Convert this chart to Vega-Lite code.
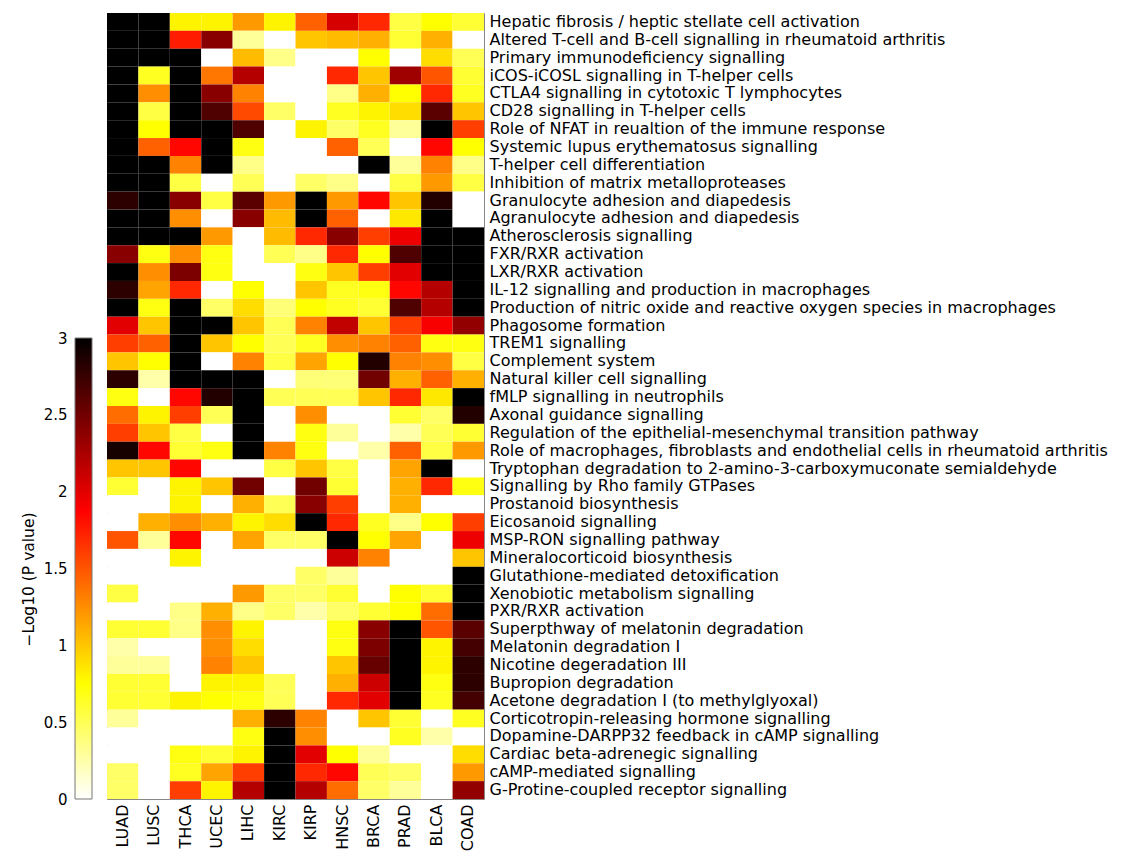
{
 "$schema": "https://vega.github.io/schema/vega-lite/v6.json",
 "padding": {"left": 21, "top": 12, "right": 5, "bottom": 5},
 "config": {"font": "DejaVu Sans", "view": {"stroke": null}, "axis": {"labelColor": "#000", "titleColor": "#000", "labelFont": "DejaVu Sans", "titleFont": "DejaVu Sans"}},
 "spacing": 13,
 "datasets": {
  "paths": [
   {"i":1,"name":"Hepatic fibrosis / heptic stellate cell activation"},
   {"i":2,"name":"Altered T-cell and B-cell signalling in rheumatoid arthritis"},
   {"i":3,"name":"Primary immunodeficiency signalling"},
   {"i":4,"name":"iCOS-iCOSL signalling in T-helper cells"},
   {"i":5,"name":"CTLA4 signalling in cytotoxic T lymphocytes"},
   {"i":6,"name":"CD28 signalling in T-helper cells"},
   {"i":7,"name":"Role of NFAT in reualtion of the immune response"},
   {"i":8,"name":"Systemic lupus erythematosus signalling"},
   {"i":9,"name":"T-helper cell differentiation"},
   {"i":10,"name":"Inhibition of matrix metalloproteases"},
   {"i":11,"name":"Granulocyte adhesion and diapedesis"},
   {"i":12,"name":"Agranulocyte adhesion and diapedesis"},
   {"i":13,"name":"Atherosclerosis signalling"},
   {"i":14,"name":"FXR/RXR activation"},
   {"i":15,"name":"LXR/RXR activation"},
   {"i":16,"name":"IL-12 signalling and production in macrophages"},
   {"i":17,"name":"Production of nitric oxide and reactive oxygen species in macrophages"},
   {"i":18,"name":"Phagosome formation"},
   {"i":19,"name":"TREM1 signalling"},
   {"i":20,"name":"Complement system"},
   {"i":21,"name":"Natural killer cell signalling"},
   {"i":22,"name":"fMLP signalling in neutrophils"},
   {"i":23,"name":"Axonal guidance signalling"},
   {"i":24,"name":"Regulation of the epithelial-mesenchymal transition pathway"},
   {"i":25,"name":"Role of macrophages, fibroblasts and endothelial cells in rheumatoid arthritis"},
   {"i":26,"name":"Tryptophan degradation to 2-amino-3-carboxymuconate semialdehyde"},
   {"i":27,"name":"Signalling by Rho family GTPases"},
   {"i":28,"name":"Prostanoid biosynthesis"},
   {"i":29,"name":"Eicosanoid signalling"},
   {"i":30,"name":"MSP-RON signalling pathway"},
   {"i":31,"name":"Mineralocorticoid biosynthesis"},
   {"i":32,"name":"Glutathione-mediated detoxification"},
   {"i":33,"name":"Xenobiotic metabolism signalling"},
   {"i":34,"name":"PXR/RXR activation"},
   {"i":35,"name":"Superpthway of melatonin degradation"},
   {"i":36,"name":"Melatonin degradation I"},
   {"i":37,"name":"Nicotine degeradation III"},
   {"i":38,"name":"Bupropion degradation"},
   {"i":39,"name":"Acetone degradation I (to methylglyoxal)"},
   {"i":40,"name":"Corticotropin-releasing hormone signalling"},
   {"i":41,"name":"Dopamine-DARPP32 feedback in cAMP signalling"},
   {"i":42,"name":"Cardiac beta-adrenegic signalling"},
   {"i":43,"name":"cAMP-mediated signalling"},
   {"i":44,"name":"G-Protine-coupled receptor signalling"}
  ],
  "cells": [
{"i":1,"c":"LUAD","v":3},{"i":1,"c":"LUSC","v":3},{"i":1,"c":"THCA","v":0.8},{"i":1,"c":"UCEC","v":0.8},{"i":1,"c":"LIHC","v":1.2},{"i":1,"c":"KIRC","v":0.8},{"i":1,"c":"KIRP","v":1.45},{"i":1,"c":"HNSC","v":2.05},{"i":1,"c":"BRCA","v":1.7},{"i":1,"c":"PRAD","v":0.55},{"i":1,"c":"BLCA","v":0.75},{"i":1,"c":"COAD","v":0.6},
{"i":2,"c":"LUAD","v":3},{"i":2,"c":"LUSC","v":3},{"i":2,"c":"THCA","v":1.75},{"i":2,"c":"UCEC","v":2.4},{"i":2,"c":"LIHC","v":0.3},{"i":2,"c":"KIRC","v":0},{"i":2,"c":"KIRP","v":1.0},{"i":2,"c":"HNSC","v":1.05},{"i":2,"c":"BRCA","v":1.1},{"i":2,"c":"PRAD","v":0.6},{"i":2,"c":"BLCA","v":1.1},{"i":2,"c":"COAD","v":0},
{"i":3,"c":"LUAD","v":3},{"i":3,"c":"LUSC","v":3},{"i":3,"c":"THCA","v":3},{"i":3,"c":"UCEC","v":0},{"i":3,"c":"LIHC","v":1.05},{"i":3,"c":"KIRC","v":0.35},{"i":3,"c":"KIRP","v":0},{"i":3,"c":"HNSC","v":0},{"i":3,"c":"BRCA","v":0.75},{"i":3,"c":"PRAD","v":0},{"i":3,"c":"BLCA","v":0.9},{"i":3,"c":"COAD","v":0.5},
{"i":4,"c":"LUAD","v":3},{"i":4,"c":"LUSC","v":0.65},{"i":4,"c":"THCA","v":3},{"i":4,"c":"UCEC","v":1.35},{"i":4,"c":"LIHC","v":2.2},{"i":4,"c":"KIRC","v":0},{"i":4,"c":"KIRP","v":0},{"i":4,"c":"HNSC","v":1.7},{"i":4,"c":"BRCA","v":1.0},{"i":4,"c":"PRAD","v":2.3},{"i":4,"c":"BLCA","v":1.5},{"i":4,"c":"COAD","v":0.6},
{"i":5,"c":"LUAD","v":3},{"i":5,"c":"LUSC","v":1.25},{"i":5,"c":"THCA","v":3},{"i":5,"c":"UCEC","v":2.4},{"i":5,"c":"LIHC","v":1.3},{"i":5,"c":"KIRC","v":0},{"i":5,"c":"KIRP","v":0},{"i":5,"c":"HNSC","v":0.35},{"i":5,"c":"BRCA","v":1.1},{"i":5,"c":"PRAD","v":0.75},{"i":5,"c":"BLCA","v":1.7},{"i":5,"c":"COAD","v":0.65},
{"i":6,"c":"LUAD","v":3},{"i":6,"c":"LUSC","v":0.55},{"i":6,"c":"THCA","v":3},{"i":6,"c":"UCEC","v":2.65},{"i":6,"c":"LIHC","v":1.55},{"i":6,"c":"KIRC","v":0.45},{"i":6,"c":"KIRP","v":0},{"i":6,"c":"HNSC","v":0.65},{"i":6,"c":"BRCA","v":0.8},{"i":6,"c":"PRAD","v":0.9},{"i":6,"c":"BLCA","v":2.6},{"i":6,"c":"COAD","v":1.0},
{"i":7,"c":"LUAD","v":3},{"i":7,"c":"LUSC","v":0.75},{"i":7,"c":"THCA","v":3},{"i":7,"c":"UCEC","v":3},{"i":7,"c":"LIHC","v":2.65},{"i":7,"c":"KIRC","v":0},{"i":7,"c":"KIRP","v":0.8},{"i":7,"c":"HNSC","v":0.45},{"i":7,"c":"BRCA","v":0.65},{"i":7,"c":"PRAD","v":0.3},{"i":7,"c":"BLCA","v":3},{"i":7,"c":"COAD","v":1.6},
{"i":8,"c":"LUAD","v":3},{"i":8,"c":"LUSC","v":1.45},{"i":8,"c":"THCA","v":1.85},{"i":8,"c":"UCEC","v":3},{"i":8,"c":"LIHC","v":0.7},{"i":8,"c":"KIRC","v":0},{"i":8,"c":"KIRP","v":0},{"i":8,"c":"HNSC","v":1.45},{"i":8,"c":"BRCA","v":0.5},{"i":8,"c":"PRAD","v":0},{"i":8,"c":"BLCA","v":1.85},{"i":8,"c":"COAD","v":0.75},
{"i":9,"c":"LUAD","v":3},{"i":9,"c":"LUSC","v":3},{"i":9,"c":"THCA","v":1.3},{"i":9,"c":"UCEC","v":3},{"i":9,"c":"LIHC","v":0.35},{"i":9,"c":"KIRC","v":0},{"i":9,"c":"KIRP","v":0},{"i":9,"c":"HNSC","v":0},{"i":9,"c":"BRCA","v":3},{"i":9,"c":"PRAD","v":0.3},{"i":9,"c":"BLCA","v":1.3},{"i":9,"c":"COAD","v":0.35},
{"i":10,"c":"LUAD","v":3},{"i":10,"c":"LUSC","v":3},{"i":10,"c":"THCA","v":0.55},{"i":10,"c":"UCEC","v":0},{"i":10,"c":"LIHC","v":0.5},{"i":10,"c":"KIRC","v":0},{"i":10,"c":"KIRP","v":0.45},{"i":10,"c":"HNSC","v":0.35},{"i":10,"c":"BRCA","v":0},{"i":10,"c":"PRAD","v":0.55},{"i":10,"c":"BLCA","v":1.2},{"i":10,"c":"COAD","v":0.55},
{"i":11,"c":"LUAD","v":2.8},{"i":11,"c":"LUSC","v":3},{"i":11,"c":"THCA","v":2.4},{"i":11,"c":"UCEC","v":0.55},{"i":11,"c":"LIHC","v":2.6},{"i":11,"c":"KIRC","v":1.2},{"i":11,"c":"KIRP","v":3},{"i":11,"c":"HNSC","v":1.2},{"i":11,"c":"BRCA","v":1.85},{"i":11,"c":"PRAD","v":1.0},{"i":11,"c":"BLCA","v":2.85},{"i":11,"c":"COAD","v":0},
{"i":12,"c":"LUAD","v":3},{"i":12,"c":"LUSC","v":3},{"i":12,"c":"THCA","v":1.25},{"i":12,"c":"UCEC","v":0},{"i":12,"c":"LIHC","v":2.4},{"i":12,"c":"KIRC","v":1.05},{"i":12,"c":"KIRP","v":3},{"i":12,"c":"HNSC","v":1.45},{"i":12,"c":"BRCA","v":0},{"i":12,"c":"PRAD","v":0.85},{"i":12,"c":"BLCA","v":3},{"i":12,"c":"COAD","v":0},
{"i":13,"c":"LUAD","v":3},{"i":13,"c":"LUSC","v":3},{"i":13,"c":"THCA","v":3},{"i":13,"c":"UCEC","v":1.2},{"i":13,"c":"LIHC","v":0},{"i":13,"c":"KIRC","v":1.05},{"i":13,"c":"KIRP","v":1.7},{"i":13,"c":"HNSC","v":2.4},{"i":13,"c":"BRCA","v":1.6},{"i":13,"c":"PRAD","v":1.95},{"i":13,"c":"BLCA","v":3},{"i":13,"c":"COAD","v":3},
{"i":14,"c":"LUAD","v":2.4},{"i":14,"c":"LUSC","v":0.7},{"i":14,"c":"THCA","v":1.25},{"i":14,"c":"UCEC","v":0.7},{"i":14,"c":"LIHC","v":0},{"i":14,"c":"KIRC","v":0.5},{"i":14,"c":"KIRP","v":0.35},{"i":14,"c":"HNSC","v":1.7},{"i":14,"c":"BRCA","v":0.75},{"i":14,"c":"PRAD","v":2.65},{"i":14,"c":"BLCA","v":3},{"i":14,"c":"COAD","v":3},
{"i":15,"c":"LUAD","v":3},{"i":15,"c":"LUSC","v":1.25},{"i":15,"c":"THCA","v":2.45},{"i":15,"c":"UCEC","v":0.7},{"i":15,"c":"LIHC","v":0},{"i":15,"c":"KIRC","v":0},{"i":15,"c":"KIRP","v":0.7},{"i":15,"c":"HNSC","v":1.0},{"i":15,"c":"BRCA","v":1.6},{"i":15,"c":"PRAD","v":2.0},{"i":15,"c":"BLCA","v":3},{"i":15,"c":"COAD","v":3},
{"i":16,"c":"LUAD","v":2.8},{"i":16,"c":"LUSC","v":1.15},{"i":16,"c":"THCA","v":1.7},{"i":16,"c":"UCEC","v":0},{"i":16,"c":"LIHC","v":0.75},{"i":16,"c":"KIRC","v":0},{"i":16,"c":"KIRP","v":1.0},{"i":16,"c":"HNSC","v":0.65},{"i":16,"c":"BRCA","v":0.7},{"i":16,"c":"PRAD","v":1.85},{"i":16,"c":"BLCA","v":2.2},{"i":16,"c":"COAD","v":3},
{"i":17,"c":"LUAD","v":3},{"i":17,"c":"LUSC","v":0.7},{"i":17,"c":"THCA","v":3},{"i":17,"c":"UCEC","v":0.45},{"i":17,"c":"LIHC","v":0.9},{"i":17,"c":"KIRC","v":0.4},{"i":17,"c":"KIRP","v":0.75},{"i":17,"c":"HNSC","v":0.65},{"i":17,"c":"BRCA","v":0.6},{"i":17,"c":"PRAD","v":2.65},{"i":17,"c":"BLCA","v":2.2},{"i":17,"c":"COAD","v":3},
{"i":18,"c":"LUAD","v":2.0},{"i":18,"c":"LUSC","v":1.0},{"i":18,"c":"THCA","v":3},{"i":18,"c":"UCEC","v":3},{"i":18,"c":"LIHC","v":1.0},{"i":18,"c":"KIRC","v":0.5},{"i":18,"c":"KIRP","v":1.3},{"i":18,"c":"HNSC","v":2.15},{"i":18,"c":"BRCA","v":1.0},{"i":18,"c":"PRAD","v":1.6},{"i":18,"c":"BLCA","v":1.9},{"i":18,"c":"COAD","v":2.35},
{"i":19,"c":"LUAD","v":1.6},{"i":19,"c":"LUSC","v":1.45},{"i":19,"c":"THCA","v":3},{"i":19,"c":"UCEC","v":1.0},{"i":19,"c":"LIHC","v":0.75},{"i":19,"c":"KIRC","v":0.5},{"i":19,"c":"KIRP","v":0.65},{"i":19,"c":"HNSC","v":1.25},{"i":19,"c":"BRCA","v":1.3},{"i":19,"c":"PRAD","v":1.45},{"i":19,"c":"BLCA","v":0.7},{"i":19,"c":"COAD","v":0.7},
{"i":20,"c":"LUAD","v":1.0},{"i":20,"c":"LUSC","v":0.75},{"i":20,"c":"THCA","v":3},{"i":20,"c":"UCEC","v":0},{"i":20,"c":"LIHC","v":1.3},{"i":20,"c":"KIRC","v":0.55},{"i":20,"c":"KIRP","v":1.15},{"i":20,"c":"HNSC","v":0.75},{"i":20,"c":"BRCA","v":2.85},{"i":20,"c":"PRAD","v":1.3},{"i":20,"c":"BLCA","v":1.25},{"i":20,"c":"COAD","v":0.55},
{"i":21,"c":"LUAD","v":2.8},{"i":21,"c":"LUSC","v":0.25},{"i":21,"c":"THCA","v":3},{"i":21,"c":"UCEC","v":3},{"i":21,"c":"LIHC","v":3},{"i":21,"c":"KIRC","v":0},{"i":21,"c":"KIRP","v":0.4},{"i":21,"c":"HNSC","v":0.4},{"i":21,"c":"BRCA","v":2.5},{"i":21,"c":"PRAD","v":1.1},{"i":21,"c":"BLCA","v":1.45},{"i":21,"c":"COAD","v":1.1},
{"i":22,"c":"LUAD","v":0.7},{"i":22,"c":"LUSC","v":0},{"i":22,"c":"THCA","v":1.85},{"i":22,"c":"UCEC","v":2.85},{"i":22,"c":"LIHC","v":3},{"i":22,"c":"KIRC","v":0.5},{"i":22,"c":"KIRP","v":0.5},{"i":22,"c":"HNSC","v":0.5},{"i":22,"c":"BRCA","v":1.0},{"i":22,"c":"PRAD","v":1.7},{"i":22,"c":"BLCA","v":0.85},{"i":22,"c":"COAD","v":3},
{"i":23,"c":"LUAD","v":1.4},{"i":23,"c":"LUSC","v":0.8},{"i":23,"c":"THCA","v":1.6},{"i":23,"c":"UCEC","v":0.5},{"i":23,"c":"LIHC","v":3},{"i":23,"c":"KIRC","v":0},{"i":23,"c":"KIRP","v":1.25},{"i":23,"c":"HNSC","v":0},{"i":23,"c":"BRCA","v":0},{"i":23,"c":"PRAD","v":0.6},{"i":23,"c":"BLCA","v":0.45},{"i":23,"c":"COAD","v":2.85},
{"i":24,"c":"LUAD","v":1.6},{"i":24,"c":"LUSC","v":1.0},{"i":24,"c":"THCA","v":0.55},{"i":24,"c":"UCEC","v":0},{"i":24,"c":"LIHC","v":3},{"i":24,"c":"KIRC","v":0},{"i":24,"c":"KIRP","v":0.7},{"i":24,"c":"HNSC","v":0.3},{"i":24,"c":"BRCA","v":0},{"i":24,"c":"PRAD","v":0.25},{"i":24,"c":"BLCA","v":0.5},{"i":24,"c":"COAD","v":0.6},
{"i":25,"c":"LUAD","v":2.9},{"i":25,"c":"LUSC","v":1.85},{"i":25,"c":"THCA","v":0.6},{"i":25,"c":"UCEC","v":0.7},{"i":25,"c":"LIHC","v":3},{"i":25,"c":"KIRC","v":1.3},{"i":25,"c":"KIRP","v":0.7},{"i":25,"c":"HNSC","v":0},{"i":25,"c":"BRCA","v":0.25},{"i":25,"c":"PRAD","v":1.45},{"i":25,"c":"BLCA","v":0.55},{"i":25,"c":"COAD","v":1.2},
{"i":26,"c":"LUAD","v":1.0},{"i":26,"c":"LUSC","v":1.0},{"i":26,"c":"THCA","v":1.85},{"i":26,"c":"UCEC","v":0},{"i":26,"c":"LIHC","v":0},{"i":26,"c":"KIRC","v":0.55},{"i":26,"c":"KIRP","v":1.0},{"i":26,"c":"HNSC","v":0.55},{"i":26,"c":"BRCA","v":0},{"i":26,"c":"PRAD","v":1.15},{"i":26,"c":"BLCA","v":3},{"i":26,"c":"COAD","v":0},
{"i":27,"c":"LUAD","v":0.6},{"i":27,"c":"LUSC","v":0},{"i":27,"c":"THCA","v":0.8},{"i":27,"c":"UCEC","v":1.0},{"i":27,"c":"LIHC","v":2.5},{"i":27,"c":"KIRC","v":0},{"i":27,"c":"KIRP","v":2.5},{"i":27,"c":"HNSC","v":0.6},{"i":27,"c":"BRCA","v":0},{"i":27,"c":"PRAD","v":1.1},{"i":27,"c":"BLCA","v":1.7},{"i":27,"c":"COAD","v":0.7},
{"i":28,"c":"LUAD","v":0},{"i":28,"c":"LUSC","v":0},{"i":28,"c":"THCA","v":0.8},{"i":28,"c":"UCEC","v":0},{"i":28,"c":"LIHC","v":1.1},{"i":28,"c":"KIRC","v":0.5},{"i":28,"c":"KIRP","v":2.4},{"i":28,"c":"HNSC","v":1.6},{"i":28,"c":"BRCA","v":0},{"i":28,"c":"PRAD","v":1.1},{"i":28,"c":"BLCA","v":0},{"i":28,"c":"COAD","v":0},
{"i":29,"c":"LUAD","v":0},{"i":29,"c":"LUSC","v":1.1},{"i":29,"c":"THCA","v":1.25},{"i":29,"c":"UCEC","v":1.1},{"i":29,"c":"LIHC","v":0.8},{"i":29,"c":"KIRC","v":0.9},{"i":29,"c":"KIRP","v":3},{"i":29,"c":"HNSC","v":1.7},{"i":29,"c":"BRCA","v":0.65},{"i":29,"c":"PRAD","v":0.35},{"i":29,"c":"BLCA","v":0.75},{"i":29,"c":"COAD","v":1.6},
{"i":30,"c":"LUAD","v":1.5},{"i":30,"c":"LUSC","v":0.3},{"i":30,"c":"THCA","v":1.85},{"i":30,"c":"UCEC","v":0},{"i":30,"c":"LIHC","v":1.15},{"i":30,"c":"KIRC","v":0.45},{"i":30,"c":"KIRP","v":0.45},{"i":30,"c":"HNSC","v":3},{"i":30,"c":"BRCA","v":0.75},{"i":30,"c":"PRAD","v":1.15},{"i":30,"c":"BLCA","v":0},{"i":30,"c":"COAD","v":1.95},
{"i":31,"c":"LUAD","v":0},{"i":31,"c":"LUSC","v":0},{"i":31,"c":"THCA","v":0.8},{"i":31,"c":"UCEC","v":0},{"i":31,"c":"LIHC","v":0},{"i":31,"c":"KIRC","v":0},{"i":31,"c":"KIRP","v":0},{"i":31,"c":"HNSC","v":2.1},{"i":31,"c":"BRCA","v":1.3},{"i":31,"c":"PRAD","v":0},{"i":31,"c":"BLCA","v":0},{"i":31,"c":"COAD","v":1.0},
{"i":32,"c":"LUAD","v":0},{"i":32,"c":"LUSC","v":0},{"i":32,"c":"THCA","v":0},{"i":32,"c":"UCEC","v":0},{"i":32,"c":"LIHC","v":0},{"i":32,"c":"KIRC","v":0},{"i":32,"c":"KIRP","v":0.45},{"i":32,"c":"HNSC","v":0.3},{"i":32,"c":"BRCA","v":0},{"i":32,"c":"PRAD","v":0},{"i":32,"c":"BLCA","v":0},{"i":32,"c":"COAD","v":3},
{"i":33,"c":"LUAD","v":0.55},{"i":33,"c":"LUSC","v":0},{"i":33,"c":"THCA","v":0},{"i":33,"c":"UCEC","v":0},{"i":33,"c":"LIHC","v":1.2},{"i":33,"c":"KIRC","v":0.45},{"i":33,"c":"KIRP","v":0.45},{"i":33,"c":"HNSC","v":0.6},{"i":33,"c":"BRCA","v":0},{"i":33,"c":"PRAD","v":0.75},{"i":33,"c":"BLCA","v":0.6},{"i":33,"c":"COAD","v":3},
{"i":34,"c":"LUAD","v":0},{"i":34,"c":"LUSC","v":0},{"i":34,"c":"THCA","v":0.35},{"i":34,"c":"UCEC","v":1.1},{"i":34,"c":"LIHC","v":0.35},{"i":34,"c":"KIRC","v":0.45},{"i":34,"c":"KIRP","v":0.25},{"i":34,"c":"HNSC","v":0.45},{"i":34,"c":"BRCA","v":0.6},{"i":34,"c":"PRAD","v":0.75},{"i":34,"c":"BLCA","v":1.4},{"i":34,"c":"COAD","v":3},
{"i":35,"c":"LUAD","v":0.6},{"i":35,"c":"LUSC","v":0.6},{"i":35,"c":"THCA","v":0.35},{"i":35,"c":"UCEC","v":1.25},{"i":35,"c":"LIHC","v":0.8},{"i":35,"c":"KIRC","v":0},{"i":35,"c":"KIRP","v":0},{"i":35,"c":"HNSC","v":0.7},{"i":35,"c":"BRCA","v":2.4},{"i":35,"c":"PRAD","v":3},{"i":35,"c":"BLCA","v":1.5},{"i":35,"c":"COAD","v":2.6},
{"i":36,"c":"LUAD","v":0.25},{"i":36,"c":"LUSC","v":0},{"i":36,"c":"THCA","v":0},{"i":36,"c":"UCEC","v":1.25},{"i":36,"c":"LIHC","v":0.9},{"i":36,"c":"KIRC","v":0},{"i":36,"c":"KIRP","v":0},{"i":36,"c":"HNSC","v":0.7},{"i":36,"c":"BRCA","v":2.45},{"i":36,"c":"PRAD","v":3},{"i":36,"c":"BLCA","v":0.8},{"i":36,"c":"COAD","v":2.7},
{"i":37,"c":"LUAD","v":0.3},{"i":37,"c":"LUSC","v":0.3},{"i":37,"c":"THCA","v":0},{"i":37,"c":"UCEC","v":1.3},{"i":37,"c":"LIHC","v":1.0},{"i":37,"c":"KIRC","v":0},{"i":37,"c":"KIRP","v":0},{"i":37,"c":"HNSC","v":1.0},{"i":37,"c":"BRCA","v":2.55},{"i":37,"c":"PRAD","v":3},{"i":37,"c":"BLCA","v":0.8},{"i":37,"c":"COAD","v":2.8},
{"i":38,"c":"LUAD","v":0.6},{"i":38,"c":"LUSC","v":0.6},{"i":38,"c":"THCA","v":0},{"i":38,"c":"UCEC","v":0.8},{"i":38,"c":"LIHC","v":0.8},{"i":38,"c":"KIRC","v":0.5},{"i":38,"c":"KIRP","v":0},{"i":38,"c":"HNSC","v":1.1},{"i":38,"c":"BRCA","v":2.1},{"i":38,"c":"PRAD","v":3},{"i":38,"c":"BLCA","v":0.7},{"i":38,"c":"COAD","v":2.8},
{"i":39,"c":"LUAD","v":0.6},{"i":39,"c":"LUSC","v":0.6},{"i":39,"c":"THCA","v":0.8},{"i":39,"c":"UCEC","v":0.75},{"i":39,"c":"LIHC","v":0.7},{"i":39,"c":"KIRC","v":0.5},{"i":39,"c":"KIRP","v":0},{"i":39,"c":"HNSC","v":1.7},{"i":39,"c":"BRCA","v":2.0},{"i":39,"c":"PRAD","v":3},{"i":39,"c":"BLCA","v":0.65},{"i":39,"c":"COAD","v":2.7},
{"i":40,"c":"LUAD","v":0.3},{"i":40,"c":"LUSC","v":0},{"i":40,"c":"THCA","v":0},{"i":40,"c":"UCEC","v":0},{"i":40,"c":"LIHC","v":1.1},{"i":40,"c":"KIRC","v":2.8},{"i":40,"c":"KIRP","v":1.3},{"i":40,"c":"HNSC","v":0},{"i":40,"c":"BRCA","v":1.0},{"i":40,"c":"PRAD","v":0.6},{"i":40,"c":"BLCA","v":0},{"i":40,"c":"COAD","v":0.65},
{"i":41,"c":"LUAD","v":0},{"i":41,"c":"LUSC","v":0},{"i":41,"c":"THCA","v":0},{"i":41,"c":"UCEC","v":0},{"i":41,"c":"LIHC","v":0.7},{"i":41,"c":"KIRC","v":3},{"i":41,"c":"KIRP","v":1.25},{"i":41,"c":"HNSC","v":0},{"i":41,"c":"BRCA","v":0},{"i":41,"c":"PRAD","v":0.65},{"i":41,"c":"BLCA","v":0.25},{"i":41,"c":"COAD","v":0},
{"i":42,"c":"LUAD","v":0},{"i":42,"c":"LUSC","v":0},{"i":42,"c":"THCA","v":0.7},{"i":42,"c":"UCEC","v":0.6},{"i":42,"c":"LIHC","v":0.8},{"i":42,"c":"KIRC","v":3},{"i":42,"c":"KIRP","v":2.0},{"i":42,"c":"HNSC","v":0.75},{"i":42,"c":"BRCA","v":0.3},{"i":42,"c":"PRAD","v":0},{"i":42,"c":"BLCA","v":0},{"i":42,"c":"COAD","v":0.9},
{"i":43,"c":"LUAD","v":0.45},{"i":43,"c":"LUSC","v":0},{"i":43,"c":"THCA","v":0.65},{"i":43,"c":"UCEC","v":1.15},{"i":43,"c":"LIHC","v":1.6},{"i":43,"c":"KIRC","v":3},{"i":43,"c":"KIRP","v":1.7},{"i":43,"c":"HNSC","v":1.85},{"i":43,"c":"BRCA","v":0.5},{"i":43,"c":"PRAD","v":0.45},{"i":43,"c":"BLCA","v":0},{"i":43,"c":"COAD","v":1.2},
{"i":44,"c":"LUAD","v":0.45},{"i":44,"c":"LUSC","v":0},{"i":44,"c":"THCA","v":1.6},{"i":44,"c":"UCEC","v":0.8},{"i":44,"c":"LIHC","v":2.2},{"i":44,"c":"KIRC","v":3},{"i":44,"c":"KIRP","v":2.2},{"i":44,"c":"HNSC","v":1.4},{"i":44,"c":"BRCA","v":0.45},{"i":44,"c":"PRAD","v":0.3},{"i":44,"c":"BLCA","v":0},{"i":44,"c":"COAD","v":2.35}
  ]
 },
 "hconcat": [
  {
   "width": 17,
   "height": 786,
   "data": {"values": [{"lo": 0, "hi": 3}]},
   "mark": {
    "type": "rect",
    "stroke": "#777",
    "strokeWidth": 1,
    "fill": {"gradient": "linear", "x1": 0, "y1": 1, "x2": 0, "y2": 0,
      "stops": [{"offset": 0, "color": "#ffffff"}, {"offset": 0.25, "color": "#ffff00"}, {"offset": 0.625, "color": "#ff0000"}, {"offset": 1, "color": "#000000"}]}
   },
   "encoding": {
    "x": {"value": 0},
    "x2": {"value": "width"},
    "y": {"field": "lo", "type": "quantitative",
      "scale": {"domain": [0, 5.115], "nice": false, "zero": true},
      "axis": {"values": [0, 0.5, 1, 1.5, 2, 2.5, 3], "format": ".1~f", "domain": false, "grid": false, "ticks": false,
        "labelFontSize": 15, "labelPadding": 8,
        "title": "−Log10 (P value)", "titleFontSize": 15.5, "titleFontWeight": "normal", "titleY": 566, "titlePadding": 7}},
    "y2": {"field": "hi"}
   }
  },
  {
   "width": 377,
   "height": 786,
   "view": {"stroke": "#888", "strokeWidth": 1},
   "data": {"name": "cells"},
   "transform": [{"lookup": "i", "from": {"data": {"name": "paths"}, "key": "i", "fields": ["name"]}}],
   "mark": {"type": "rect"},
   "encoding": {
    "x": {"field": "c", "type": "nominal",
      "sort": ["LUAD","LUSC","THCA","UCEC","LIHC","KIRC","KIRP","HNSC","BRCA","PRAD","BLCA","COAD"],
      "scale": {"paddingInner": 0, "paddingOuter": 0},
      "axis": {"title": null, "orient": "bottom", "labelAngle": -90, "labelFontSize": 16, "ticks": false, "domain": false, "labelPadding": 5}},
    "y": {"field": "name", "type": "nominal",
      "sort": {"field": "i", "op": "min", "order": "ascending"},
      "scale": {"paddingInner": 0, "paddingOuter": 0},
      "axis": {"title": null, "orient": "right", "labelFontSize": 16, "ticks": false, "domain": false, "labelPadding": 5, "labelLimit": 0}},
    "color": {"field": "v", "type": "quantitative",
      "scale": {"domain": [0, 0.75, 1.875, 3], "range": ["#ffffff", "#ffff00", "#ff0000", "#000000"], "interpolate": "rgb"},
      "legend": null}
   }
  }
 ]
}
